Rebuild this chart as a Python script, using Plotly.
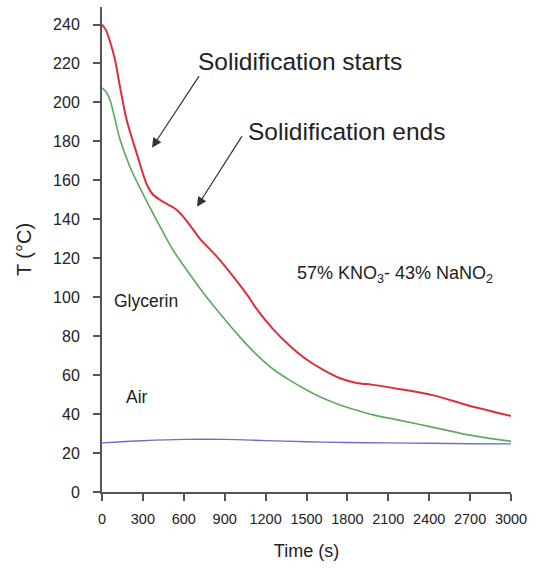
import plotly.graph_objects as go

# Data
red_t = [0, 30, 60, 95, 132, 181, 254, 328, 370, 425, 499, 545, 600, 650, 719, 841, 963, 1073,
         1134, 1256, 1379, 1501, 1623, 1746, 1868, 1990, 2186, 2431, 2675, 3000]
red_T = [240, 237, 231, 222, 208, 191, 174, 158, 153, 150, 147, 145, 141, 136.5, 130, 121, 110.6, 100.4,
         94, 83.5, 75, 68, 62.7, 58.4, 56, 55, 52.8, 49.6, 44.7, 39]

green_t = [0, 30, 60, 95, 132, 205, 279, 352, 401, 474, 523, 596, 646, 719, 768, 866, 1012,
           1134, 1256, 1379, 1501, 1623, 1746, 1868, 1990, 2186, 2431, 2675, 3000]
green_T = [207.5, 205.5, 201, 191.5, 181, 167, 156, 146, 139.5, 130, 124, 116.5, 111.5, 104.5, 100, 91.5, 79.5,
           70.5, 63, 57.3, 52.4, 48.1, 44.7, 42, 39.6, 36.8, 33.2, 29.5, 26]

air_t = [0, 300, 600, 900, 1200, 1500, 1800, 2100, 2400, 2700, 3000]
air_T = [25.2, 26.3, 27.0, 27.0, 26.4, 25.8, 25.4, 25.2, 25.0, 24.8, 24.7]

x_ticks = [0, 300, 600, 900, 1200, 1500, 1800, 2100, 2400, 2700, 3000]
y_ticks = list(range(0, 241, 20))

FONT = "Liberation Sans, Arial, sans-serif"
TXT = "#222222"
AX = "#555555"

fig = go.Figure()
fig.add_trace(go.Scatter(x=air_t, y=air_T, mode="lines", line=dict(color="#6e6ec8", width=1.4, shape="spline")))
fig.add_trace(go.Scatter(x=green_t, y=green_T, mode="lines", line=dict(color="#5fab5f", width=1.7, shape="spline", smoothing=0.9)))
fig.add_trace(go.Scatter(x=red_t, y=red_T, mode="lines", line=dict(color="#dc2f3c", width=2.0, shape="spline", smoothing=0.9)))

ann = []
# arrows
ann.append(dict(x=367, y=176.8, ax=719, ay=214.3, xref="x", yref="y", axref="x", ayref="y",
                text="", showarrow=True, arrowhead=2, arrowsize=1.6, arrowwidth=1.2, arrowcolor="#333333"))
ann.append(dict(x=697, y=146.5, ax=1034, ay=183.5, xref="x", yref="y", axref="x", ayref="y",
                text="", showarrow=True, arrowhead=2, arrowsize=1.6, arrowwidth=1.2, arrowcolor="#333333"))
# texts
ann.append(dict(x=1453, y=221, xref="x", yref="y", text="Solidification starts", showarrow=False,
                font=dict(family=FONT, size=24.5, color=TXT)))
ann.append(dict(x=1790, y=185, xref="x", yref="y", text="Solidification ends", showarrow=False,
                font=dict(family=FONT, size=24.5, color=TXT)))
ann.append(dict(x=1416, y=111.5, xref="x", yref="y", xanchor="left", text="57% KNO<sub>3</sub>- 43% NaNO<sub>2</sub>",
                showarrow=False, font=dict(family=FONT, size=18, color=TXT)))
ann.append(dict(x=73, y=98, xref="x", yref="y", xanchor="left", text="Glycerin", showarrow=False,
                font=dict(family=FONT, size=17.5, color=TXT)))
ann.append(dict(x=161, y=48.8, xref="x", yref="y", xanchor="left", text="Air", showarrow=False,
                font=dict(family=FONT, size=17.5, color=TXT)))

fig.update_layout(
    width=544, height=568,
    margin=dict(l=102, r=33, t=7, b=76),
    paper_bgcolor="white", plot_bgcolor="white",
    showlegend=False,
    annotations=ann,
    font=dict(family=FONT, color=TXT),
    xaxis=dict(range=[0, 3000], tickvals=x_ticks, showgrid=False, zeroline=False,
               showline=True, linecolor=AX, linewidth=2, ticks="outside", ticklen=7, tickwidth=2,
               tickcolor=AX, tickfont=dict(family=FONT, size=14.5, color=TXT), ticklabelstandoff=6,
               title=dict(text="Time (s)", font=dict(family=FONT, size=18, color=TXT), standoff=18)),
    yaxis=dict(range=[0, 249], tickvals=y_ticks, showgrid=False, zeroline=False,
               showline=True, linecolor=AX, linewidth=2, ticks="outside", ticklen=7, tickwidth=2,
               tickcolor=AX, tickfont=dict(family=FONT, size=16, color=TXT), ticklabelstandoff=10,
               title=dict(text="T (°C)", font=dict(family=FONT, size=20, color=TXT), standoff=16)),
)

fig.write_html("out.html")
